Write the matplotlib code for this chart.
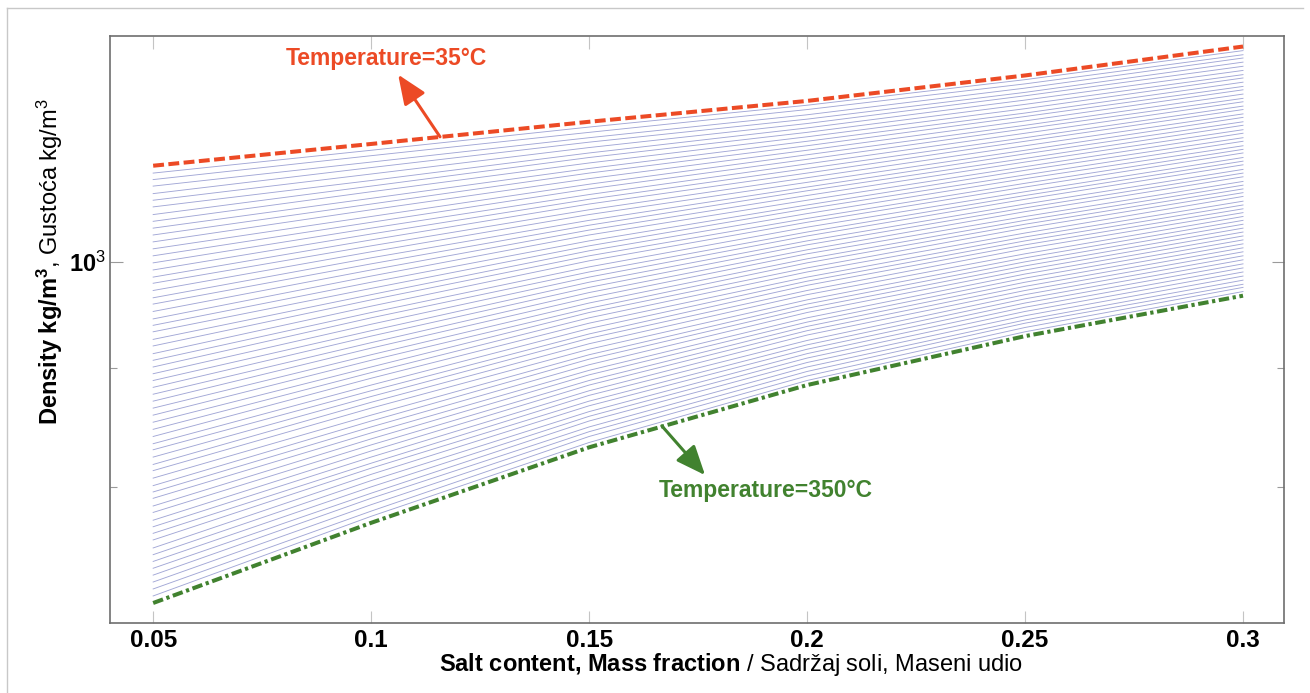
import matplotlib
matplotlib.use("Agg")
import matplotlib.pyplot as plt
import numpy as np
from matplotlib.lines import Line2D
from matplotlib.ticker import FixedLocator, NullFormatter

plt.rcParams["font.family"] = ["Liberation Sans", "DejaVu Sans"]
plt.rcParams["mathtext.fontset"] = "custom"
plt.rcParams["mathtext.rm"] = "Liberation Sans"
plt.rcParams["mathtext.it"] = "Liberation Sans:italic"
plt.rcParams["mathtext.bf"] = "Liberation Sans:bold"

# salt mass fraction columns
salt = [0.05, 0.10, 0.15, 0.20, 0.25, 0.30]
# isotherms 35 .. 350 degC, one every 5 degC
temperature = list(range(35, 351, 5))

# density [kg/m3] of every isotherm at each salt fraction
rho_005 = [1100, 1092, 1085, 1078, 1070, 1063, 1056, 1048, 1041, 1034, 1027, 1020, 1013, 1006, 999, 992,
           985, 979, 972, 965, 959, 952, 945, 939, 933, 926, 920, 913, 907, 901, 895, 889,
           883, 877, 871, 865, 859, 853, 847, 841, 835, 830, 824, 818, 813, 807, 801, 796,
           791, 785, 780, 774, 769, 764, 759, 753, 748, 743, 738, 733, 728, 723, 718, 713]
rho_010 = [1124, 1117, 1111, 1104, 1098, 1091, 1084, 1078, 1072, 1065, 1059, 1053, 1046, 1040, 1034, 1028,
           1022, 1016, 1010, 1004, 998, 992, 986, 980, 974, 968, 963, 957, 951, 946, 940, 934,
           929, 923, 918, 912, 907, 901, 896, 891, 885, 880, 875, 870, 865, 859, 854, 849,
           844, 839, 834, 829, 824, 819, 815, 810, 805, 800, 795, 791, 786, 781, 777, 772]
rho_015 = [1149, 1143, 1137, 1131, 1126, 1120, 1114, 1109, 1103, 1097, 1092, 1086, 1080, 1075, 1069, 1064,
           1059, 1053, 1048, 1042, 1037, 1032, 1027, 1021, 1016, 1011, 1006, 1001, 995, 990, 985, 980,
           975, 970, 965, 960, 955, 951, 946, 941, 936, 931, 927, 922, 917, 912, 908, 903,
           898, 894, 889, 885, 880, 876, 871, 867, 862, 858, 854, 849, 845, 841, 836, 832]
rho_020 = [1173, 1168, 1163, 1157, 1152, 1147, 1142, 1137, 1132, 1127, 1122, 1117, 1112, 1107, 1102, 1097,
           1092, 1087, 1082, 1077, 1073, 1068, 1063, 1058, 1054, 1049, 1044, 1040, 1035, 1030, 1026, 1021,
           1017, 1012, 1008, 1003, 999, 994, 990, 985, 981, 977, 972, 968, 963, 959, 955, 951,
           946, 942, 938, 934, 930, 925, 921, 917, 913, 909, 905, 901, 897, 893, 889, 885]
rho_025 = [1203, 1198, 1193, 1188, 1183, 1179, 1174, 1169, 1164, 1159, 1155, 1150, 1145, 1141, 1136, 1131,
           1127, 1122, 1117, 1113, 1108, 1104, 1099, 1095, 1090, 1086, 1081, 1077, 1072, 1068, 1064, 1059,
           1055, 1051, 1046, 1042, 1038, 1034, 1029, 1025, 1021, 1017, 1013, 1008, 1004, 1000, 996, 992,
           988, 984, 980, 976, 972, 968, 964, 960, 956, 952, 948, 944, 941, 937, 933, 929]
rho_030 = [1238, 1233, 1228, 1224, 1219, 1214, 1209, 1204, 1200, 1195, 1190, 1186, 1181, 1176, 1172, 1167,
           1163, 1158, 1154, 1149, 1145, 1140, 1136, 1131, 1127, 1122, 1118, 1114, 1109, 1105, 1101, 1096,
           1092, 1088, 1083, 1079, 1075, 1071, 1067, 1062, 1058, 1054, 1050, 1046, 1042, 1038, 1034, 1030,
           1026, 1022, 1018, 1014, 1010, 1006, 1002, 998, 994, 990, 986, 982, 978, 975, 971, 967]

xtick_labels = ["0.05", "0.1", "0.15", "0.2", "0.25", "0.3"]

ORANGE = "#ec4a25"
GREEN = "#41822f"
THIN = "#a2a7d6"

rho = np.array([rho_005, rho_010, rho_015, rho_020, rho_025, rho_030]).T

fig = plt.figure(figsize=(13.1, 6.93), dpi=100)
ax = fig.add_axes([110 / 1310, 70 / 693, 1174 / 1310, 587 / 693])

for k in range(1, len(temperature) - 1):
    ax.plot(salt, rho[k], color=THIN, lw=0.65, zorder=2)

ax.plot(salt, rho[0], color=ORANGE, lw=2.9, dashes=(2.7, 1.1),
        dash_capstyle="butt", zorder=3)
ax.plot(salt, rho[-1], color=GREEN, lw=2.9, dashes=(2.6, 0.9, 0.8, 0.9),
        dash_capstyle="butt", zorder=3)

ax.set_yscale("log")
ax.set_xlim(0.0401, 0.3094)
ax.set_ylim(699, 1251)

ax.set_xticks(salt)
ax.set_xticklabels(xtick_labels, fontsize=17.5, fontweight="bold")
ax.yaxis.set_major_locator(FixedLocator([1000]))
ax.yaxis.set_minor_locator(FixedLocator([800, 900]))
ax.yaxis.set_minor_formatter(NullFormatter())
ax.set_yticklabels([r"$\mathbf{10}^{3}$"], fontsize=17)

ax.tick_params(axis="x", which="major", direction="in", length=9, width=0.8,
               color="#c4c4c4", top=True, pad=4)
ax.tick_params(axis="y", which="major", direction="in", length=9, width=0.8,
               color="#9a9a9a", right=True, pad=3)
ax.tick_params(axis="y", which="minor", direction="in", length=5, width=0.8,
               color="#9a9a9a", right=True)
for side in ax.spines.values():
    side.set_color("#6e6e6e")
    side.set_linewidth(1.2)

# isotherm labels with arrows
ax.annotate("", xy=(0.1062, 1204), xytext=(0.1158, 1132),
            arrowprops=dict(arrowstyle="-|>,head_length=0.6,head_width=0.25",
                            mutation_scale=30, lw=2.2, color=ORANGE,
                            shrinkA=0, shrinkB=0), zorder=4)
ax.text(0.1034, 1224, "Temperature=35°C", color=ORANGE, fontsize=16.5,
        fontweight="bold", ha="center", va="center")

ax.annotate("", xy=(0.1766, 809.4), xytext=(0.1667, 849.8),
            arrowprops=dict(arrowstyle="-|>,head_length=0.6,head_width=0.25",
                            mutation_scale=30, lw=2.2, color=GREEN,
                            shrinkA=0, shrinkB=0), zorder=4)
ax.text(0.1906, 797.4, "Temperature=350°C", color=GREEN, fontsize=16.5,
        fontweight="bold", ha="center", va="center")

fig.text(731 / 1310, 29 / 693,
         r"$\mathbf{Salt\ content{,}\ Mass\ fraction}$ / Sadržaj soli, Maseni udio",
         fontsize=17, ha="center", va="center")
fig.text(50 / 1310, 431 / 693,
         r"$\mathbf{Density\ kg/m}^\mathbf{3}$, Gustoća kg/m$^3$",
         fontsize=17, rotation=90, ha="center", va="center")

# panel frame on the left and top edges
fig.add_artist(Line2D([7 / 1310, 7 / 1310], [0, 685 / 693], color="#c8c8c8", lw=1.0))
fig.add_artist(Line2D([7 / 1310, 1303 / 1310], [685 / 693, 685 / 693], color="#c8c8c8", lw=1.0))

fig.savefig("out.png", dpi=100)
